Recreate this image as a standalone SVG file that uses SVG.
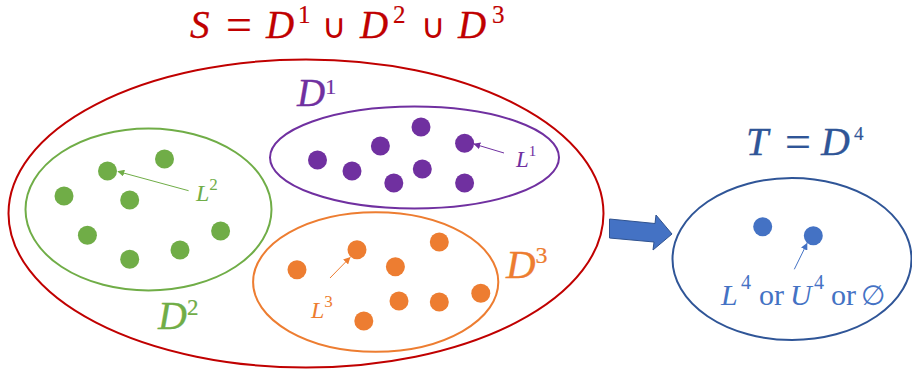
<svg xmlns="http://www.w3.org/2000/svg" width="912" height="371" viewBox="0 0 912 371">
<defs>
<style>
.m{font-family:"Liberation Serif","DejaVu Serif",serif;font-style:italic;stroke-width:0.3}
.u{font-family:"Liberation Serif","DejaVu Serif",serif;font-style:normal;stroke-width:0.2}
.sym{font-family:"DejaVu Sans","Liberation Serif",serif;font-style:normal}
.ring{fill:none;stroke-width:2}
.p{fill:#7030A0}.g{fill:#70AD47}.o{fill:#ED7D31}.b{fill:#4472C4}
</style>
<marker id="ap" viewBox="0 0 10 10" refX="9" refY="5" markerWidth="7" markerHeight="7" orient="auto" markerUnits="userSpaceOnUse"><path d="M0,0L10,5L0,10z" fill="#7030A0"/></marker>
<marker id="ag" viewBox="0 0 10 10" refX="9" refY="5" markerWidth="7" markerHeight="7" orient="auto" markerUnits="userSpaceOnUse"><path d="M0,0L10,5L0,10z" fill="#70AD47"/></marker>
<marker id="ao" viewBox="0 0 10 10" refX="9" refY="5" markerWidth="7" markerHeight="7" orient="auto" markerUnits="userSpaceOnUse"><path d="M0,0L10,5L0,10z" fill="#ED7D31"/></marker>
<marker id="ab" viewBox="0 0 10 10" refX="9" refY="5" markerWidth="7" markerHeight="7" orient="auto" markerUnits="userSpaceOnUse"><path d="M0,0L10,5L0,10z" fill="#4472C4"/></marker>
</defs>

<g id="title-S" fill="#C00000" stroke="#C00000">
<text class="m" x="190" y="38" font-size="39">S</text>
<text class="u" x="226" y="40" font-size="46">=</text>
<text class="m" x="266" y="38" font-size="39">D</text>
<text class="u" x="298" y="23" font-size="25">1</text>
<text class="sym" x="322" y="38" font-size="34" stroke="none">∪</text>
<text class="m" x="360" y="38" font-size="39">D</text>
<text class="u" x="393" y="23" font-size="25">2</text>
<text class="sym" x="421" y="38" font-size="34" stroke="none">∪</text>
<text class="m" x="458" y="38" font-size="39">D</text>
<text class="u" x="492" y="23" font-size="25">3</text>
</g>

<g id="S">
<ellipse class="ring" cx="306" cy="213.5" rx="297.5" ry="154" stroke="#C00000"/>
</g>

<g id="D1">
<ellipse class="ring" cx="414.5" cy="157.5" rx="144.5" ry="51" stroke="#7030A0"/>
<g class="p">
<circle cx="317.5" cy="160" r="9.5"/><circle cx="352" cy="171" r="9.5"/>
<circle cx="380.4" cy="146" r="9.5"/><circle cx="421" cy="127" r="9.5"/>
<circle cx="422.3" cy="169" r="9.5"/><circle cx="464.6" cy="143.3" r="9.5"/>
<circle cx="393.8" cy="183" r="9.5"/><circle cx="464.6" cy="183" r="9.5"/>
</g>
<text fill="#7030A0" stroke="#7030A0" x="297" y="106"><tspan class="m" font-size="39">D</tspan><tspan class="u" font-size="22" dy="-12">1</tspan></text>
<text fill="#7030A0" x="516" y="167"><tspan class="m" font-size="23">L</tspan><tspan class="u" font-size="15" dy="-11">1</tspan></text>
</g>

<g id="D2">
<ellipse class="ring" cx="148.5" cy="209.5" rx="123" ry="81" stroke="#70AD47"/>
<g class="g">
<circle cx="164.5" cy="159" r="9.5"/><circle cx="107.5" cy="171" r="9.5"/>
<circle cx="64" cy="196" r="9.5"/><circle cx="129.7" cy="200" r="9.5"/>
<circle cx="87.4" cy="235.3" r="9.5"/><circle cx="129.7" cy="259.3" r="9.5"/>
<circle cx="180" cy="250" r="9.5"/><circle cx="220.6" cy="231" r="9.5"/>
</g>
<text fill="#70AD47" stroke="#70AD47" x="158" y="329"><tspan class="m" font-size="40">D</tspan><tspan class="u" font-size="23" dy="-14">2</tspan></text>
<text fill="#70AD47" x="196" y="201"><tspan class="m" font-size="24">L</tspan><tspan class="u" font-size="17" dy="-11">2</tspan></text>
</g>

<g id="D3">
<ellipse class="ring" cx="375.7" cy="282" rx="122.6" ry="69.7" stroke="#ED7D31"/>
<g class="o">
<circle cx="357" cy="249.7" r="9.5"/><circle cx="439.3" cy="242" r="9.5"/>
<circle cx="297" cy="269.7" r="9.5"/><circle cx="395.4" cy="266.7" r="9.5"/>
<circle cx="399" cy="301" r="9.5"/><circle cx="439.3" cy="302" r="9.5"/>
<circle cx="480.8" cy="293.3" r="9.5"/><circle cx="363.8" cy="321" r="9.5"/>
</g>
<text fill="#ED7D31" stroke="#ED7D31" x="506" y="278"><tspan class="m" font-size="41">D</tspan><tspan class="u" font-size="24" dy="-15">3</tspan></text>
<text fill="#ED7D31" x="311" y="318"><tspan class="m" font-size="24">L</tspan><tspan class="u" font-size="17" dy="-11">3</tspan></text>
</g>

<g id="T">
<ellipse class="ring" cx="792" cy="259" rx="119.5" ry="81" stroke="#2F5597"/>
<circle class="b" cx="762.7" cy="226.7" r="9.5"/>
<circle class="b" cx="813.3" cy="235.7" r="9.5"/>
<text fill="#2F5597" stroke="#2F5597" y="155" font-size="40"><tspan class="m" x="746">T</tspan><tspan class="u" x="785" y="157" font-size="46">=</tspan><tspan class="m" x="821" y="155">D</tspan><tspan class="u" x="854" y="140" font-size="19">4</tspan></text>
<text fill="#4472C4" y="305" font-size="30"><tspan class="m" x="721">L</tspan><tspan class="u" x="741" y="289" font-size="20">4</tspan><tspan class="u" x="759" y="305">or</tspan><tspan class="m" x="790">U</tspan><tspan class="u" x="814" y="289" font-size="20">4</tspan><tspan class="u" x="831" y="305">or</tspan><tspan class="sym" x="861" y="305" font-size="28">∅</tspan></text>
</g>

<g id="connectors">
<line x1="504" y1="153" x2="474" y2="144" stroke="#7030A0" stroke-width="1" marker-end="url(#ap)"/>
<line x1="188.6" y1="190.7" x2="118" y2="171.5" stroke="#70AD47" stroke-width="1" marker-end="url(#ag)"/>
<line x1="330" y1="278" x2="350" y2="257.5" stroke="#ED7D31" stroke-width="1" marker-end="url(#ao)"/>
<line x1="794.3" y1="269.3" x2="807" y2="243.5" stroke="#4472C4" stroke-width="1" marker-end="url(#ab)"/>
<polygon points="609.5,219 655,223.5 656,215 672,234 653,250 654,242 609.5,238" fill="#4472C4" stroke="#2F528F" stroke-width="1"/>
</g>
</svg>
